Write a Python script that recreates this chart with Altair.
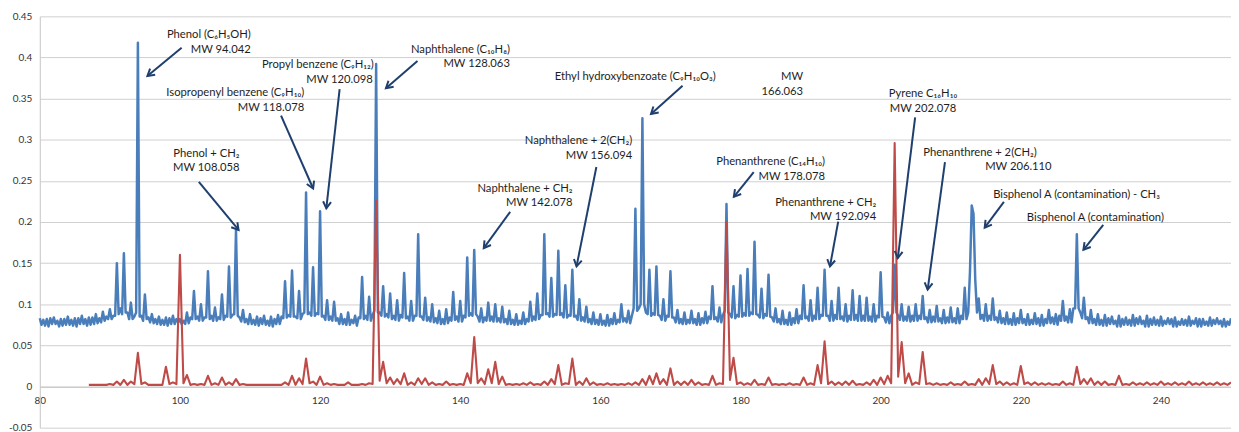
import math
import altair as alt
import pandas as pd

# ---------------- data ----------------
# Blue spectrum: value at every integer m/z from 80 to 250
blue_start = 80
blue_int = [
    0.083, 0.082, 0.084, 0.082, 0.085, 0.083, 0.086, 0.084, 0.088, 0.091,  # 80-89
    0.094, 0.150, 0.162, 0.102, 0.418, 0.112, 0.088, 0.085, 0.084, 0.086,  # 90-99
    0.082, 0.090, 0.116, 0.100, 0.140, 0.096, 0.112, 0.146, 0.190, 0.093,  # 100-109
    0.088, 0.085, 0.086, 0.085, 0.087, 0.128, 0.141, 0.116, 0.236, 0.145,  # 110-119
    0.213, 0.105, 0.103, 0.088, 0.090, 0.086, 0.133, 0.109, 0.392, 0.122,  # 120-129
    0.113, 0.105, 0.138, 0.104, 0.185, 0.108, 0.100, 0.092, 0.094, 0.115,  # 130-139
    0.104, 0.157, 0.166, 0.095, 0.102, 0.100, 0.097, 0.092, 0.088, 0.090,  # 140-149
    0.103, 0.113, 0.185, 0.132, 0.165, 0.123, 0.142, 0.106, 0.097, 0.090,  # 150-159
    0.088, 0.087, 0.089, 0.100, 0.092, 0.216, 0.326, 0.142, 0.146, 0.106,  # 160-169
    0.140, 0.093, 0.090, 0.092, 0.089, 0.091, 0.122, 0.096, 0.222, 0.122,  # 170-179
    0.135, 0.143, 0.176, 0.119, 0.136, 0.095, 0.092, 0.090, 0.094, 0.123,  # 180-189
    0.105, 0.120, 0.142, 0.104, 0.120, 0.100, 0.117, 0.110, 0.108, 0.100,  # 190-199
    0.139, 0.090, 0.148, 0.100, 0.097, 0.100, 0.110, 0.093, 0.098, 0.093,  # 200-209
    0.096, 0.095, 0.120, 0.220, 0.107, 0.100, 0.107, 0.092, 0.090, 0.089,  # 210-219
    0.093, 0.088, 0.089, 0.087, 0.093, 0.088, 0.104, 0.094, 0.185, 0.108,  # 220-229
    0.093, 0.088, 0.087, 0.085, 0.086, 0.084, 0.087, 0.085, 0.086, 0.084,  # 230-239
    0.085, 0.083, 0.084, 0.082, 0.085, 0.083, 0.082, 0.084, 0.083, 0.082,  # 240-249
    0.083,                                                                  # 250
]
# Blue spectrum at m + 0.25 (m = 80 ... 249)
blue_q1 = [
    0.075, 0.073, 0.076, 0.074, 0.075, 0.073, 0.076, 0.075, 0.077, 0.080,
    0.082, 0.088, 0.090, 0.082, 0.085, 0.082, 0.077, 0.075, 0.074, 0.076,
    0.076, 0.077, 0.082, 0.080, 0.082, 0.080, 0.081, 0.084, 0.086, 0.078,
    0.076, 0.074, 0.075, 0.073, 0.076, 0.084, 0.085, 0.082, 0.088, 0.086,
    0.085, 0.081, 0.080, 0.076, 0.075, 0.074, 0.082, 0.080, 0.090, 0.085,
    0.082, 0.080, 0.083, 0.080, 0.085, 0.080, 0.078, 0.076, 0.077, 0.081,
    0.079, 0.086, 0.088, 0.078, 0.080, 0.079, 0.078, 0.076, 0.075, 0.076,
    0.080, 0.082, 0.088, 0.085, 0.087, 0.084, 0.085, 0.080, 0.078, 0.076,
    0.075, 0.074, 0.076, 0.079, 0.077, 0.092, 0.100, 0.086, 0.087, 0.080,
    0.084, 0.077, 0.076, 0.077, 0.075, 0.077, 0.082, 0.078, 0.090, 0.083,
    0.085, 0.086, 0.088, 0.083, 0.085, 0.078, 0.076, 0.075, 0.077, 0.083,
    0.080, 0.082, 0.086, 0.080, 0.082, 0.079, 0.081, 0.080, 0.080, 0.079,
    0.085, 0.077, 0.090, 0.080, 0.079, 0.080, 0.082, 0.078, 0.079, 0.077,
    0.078, 0.077, 0.082, 0.210, 0.082, 0.080, 0.081, 0.077, 0.076, 0.075,
    0.077, 0.075, 0.076, 0.074, 0.077, 0.075, 0.080, 0.078, 0.095, 0.082,
    0.077, 0.075, 0.074, 0.076, 0.073, 0.075, 0.074, 0.076, 0.073, 0.075,
    0.074, 0.076, 0.073, 0.075, 0.074, 0.073, 0.075, 0.074, 0.076, 0.073,
]
# Blue spectrum at m + 0.5 (m = 80 ... 249)
blue_half = [
    0.081, 0.083, 0.080, 0.082, 0.081, 0.083, 0.082, 0.084, 0.083, 0.085,
    0.086, 0.095, 0.090, 0.085, 0.086, 0.084, 0.082, 0.081, 0.083, 0.082,
    0.080, 0.084, 0.085, 0.084, 0.086, 0.084, 0.086, 0.087, 0.084, 0.082,
    0.081, 0.083, 0.080, 0.082, 0.085, 0.087, 0.085, 0.088, 0.090, 0.089,
    0.086, 0.085, 0.083, 0.082, 0.081, 0.084, 0.086, 0.087, 0.090, 0.088,
    0.086, 0.087, 0.085, 0.086, 0.085, 0.084, 0.083, 0.082, 0.084, 0.085,
    0.086, 0.089, 0.085, 0.084, 0.085, 0.083, 0.082, 0.081, 0.080, 0.082,
    0.085, 0.087, 0.089, 0.088, 0.089, 0.087, 0.086, 0.084, 0.082, 0.081,
    0.080, 0.082, 0.081, 0.083, 0.086, 0.095, 0.090, 0.089, 0.086, 0.086,
    0.084, 0.082, 0.081, 0.082, 0.083, 0.085, 0.084, 0.087, 0.088, 0.087,
    0.089, 0.090, 0.087, 0.088, 0.084, 0.082, 0.081, 0.083, 0.086, 0.085,
    0.086, 0.087, 0.086, 0.087, 0.085, 0.086, 0.087, 0.086, 0.085, 0.086,
    0.084, 0.086, 0.086, 0.085, 0.086, 0.086, 0.084, 0.085, 0.083, 0.084,
    0.083, 0.086, 0.090, 0.130, 0.087, 0.086, 0.084, 0.083, 0.082, 0.083,
    0.082, 0.081, 0.083, 0.082, 0.084, 0.086, 0.085, 0.095, 0.090, 0.084,
    0.082, 0.081, 0.083, 0.080, 0.082, 0.081, 0.083, 0.080, 0.082, 0.081,
    0.080, 0.082, 0.079, 0.081, 0.080, 0.082, 0.079, 0.081, 0.080, 0.079,
]
# Blue spectrum at m + 0.75 (m = 80 ... 249)
blue_q3 = [
    0.074, 0.076, 0.073, 0.075, 0.074, 0.076, 0.074, 0.076, 0.078, 0.082,
    0.086, 0.088, 0.082, 0.090, 0.080, 0.078, 0.076, 0.075, 0.076, 0.078,
    0.076, 0.082, 0.080, 0.084, 0.080, 0.082, 0.085, 0.088, 0.079, 0.076,
    0.075, 0.076, 0.074, 0.076, 0.083, 0.085, 0.083, 0.090, 0.086, 0.088,
    0.081, 0.080, 0.076, 0.075, 0.077, 0.083, 0.081, 0.092, 0.086, 0.084,
    0.081, 0.084, 0.080, 0.086, 0.081, 0.079, 0.077, 0.076, 0.080, 0.079,
    0.084, 0.086, 0.079, 0.080, 0.079, 0.078, 0.076, 0.075, 0.076, 0.079,
    0.081, 0.087, 0.085, 0.087, 0.084, 0.086, 0.081, 0.079, 0.076, 0.075,
    0.074, 0.076, 0.078, 0.078, 0.095, 0.100, 0.088, 0.087, 0.081, 0.085,
    0.078, 0.076, 0.077, 0.075, 0.077, 0.082, 0.079, 0.092, 0.084, 0.085,
    0.086, 0.088, 0.084, 0.086, 0.079, 0.076, 0.075, 0.077, 0.082, 0.080,
    0.082, 0.086, 0.080, 0.082, 0.080, 0.081, 0.080, 0.080, 0.079, 0.084,
    0.078, 0.090, 0.081, 0.080, 0.080, 0.082, 0.078, 0.079, 0.077, 0.078,
    0.077, 0.082, 0.140, 0.090, 0.080, 0.081, 0.078, 0.076, 0.075, 0.077,
    0.075, 0.076, 0.074, 0.077, 0.076, 0.080, 0.078, 0.095, 0.083, 0.077,
    0.075, 0.074, 0.076, 0.073, 0.075, 0.074, 0.076, 0.073, 0.075, 0.074,
    0.076, 0.073, 0.075, 0.074, 0.076, 0.073, 0.074, 0.076, 0.073, 0.075,
]

# Red spectrum: value at every integer m/z from 87 to 250
red_start = 87
red_int = [
    0.002, 0.002, 0.002, 0.003, 0.006, 0.008, 0.006, 0.041, 0.005, 0.002,  # 87-96
    0.002, 0.024, 0.005, 0.160, 0.014, 0.003, 0.003, 0.013, 0.004, 0.011,  # 97-106
    0.005, 0.009, 0.003, 0.002, 0.002, 0.002, 0.002, 0.002, 0.005, 0.013,  # 107-116
    0.010, 0.034, 0.006, 0.012, 0.004, 0.003, 0.002, 0.005, 0.002, 0.003,  # 117-126
    0.004, 0.226, 0.030, 0.011, 0.009, 0.016, 0.005, 0.010, 0.010, 0.005,  # 127-136
    0.003, 0.006, 0.003, 0.003, 0.016, 0.060, 0.010, 0.021, 0.030, 0.012,  # 137-146
    0.003, 0.003, 0.004, 0.005, 0.003, 0.006, 0.009, 0.026, 0.004, 0.034,  # 147-156
    0.006, 0.010, 0.005, 0.003, 0.004, 0.003, 0.003, 0.004, 0.005, 0.009,  # 157-166
    0.013, 0.016, 0.009, 0.022, 0.006, 0.006, 0.008, 0.005, 0.003, 0.013,  # 167-176
    0.004, 0.200, 0.035, 0.005, 0.004, 0.008, 0.003, 0.011, 0.003, 0.003,  # 177-186
    0.004, 0.003, 0.011, 0.004, 0.026, 0.055, 0.006, 0.005, 0.006, 0.007,  # 187-196
    0.003, 0.005, 0.008, 0.011, 0.013, 0.296, 0.054, 0.016, 0.005, 0.042,  # 197-206
    0.004, 0.004, 0.003, 0.005, 0.003, 0.006, 0.003, 0.009, 0.010, 0.026,  # 207-216
    0.006, 0.005, 0.004, 0.025, 0.005, 0.005, 0.004, 0.004, 0.003, 0.006,  # 217-226
    0.004, 0.024, 0.009, 0.010, 0.006, 0.006, 0.003, 0.013, 0.003, 0.005,  # 227-236
    0.004, 0.005, 0.004, 0.006, 0.004, 0.005, 0.004, 0.006, 0.004, 0.005,  # 237-246
    0.004, 0.005, 0.004, 0.005,                                            # 247-250
]
# Red spectrum: half-way values (87.5 ... 249.5)
red_half = [
    0.002, 0.002, 0.002, 0.002, 0.002, 0.002, 0.003, 0.003, 0.002, 0.002,
    0.002, 0.003, 0.003, 0.004, 0.002, 0.002, 0.002, 0.002, 0.002, 0.002,
    0.002, 0.002, 0.002, 0.002, 0.002, 0.002, 0.002, 0.002, 0.002, 0.002,
    0.003, 0.004, 0.002, 0.002, 0.002, 0.002, 0.002, 0.002, 0.002, 0.002,
    0.003, 0.007, 0.004, 0.003, 0.003, 0.002, 0.002, 0.003, 0.002, 0.002,
    0.002, 0.002, 0.002, 0.002, 0.004, 0.004, 0.003, 0.004, 0.003, 0.002,
    0.002, 0.002, 0.002, 0.002, 0.002, 0.002, 0.003, 0.002, 0.003, 0.002,
    0.002, 0.002, 0.002, 0.002, 0.002, 0.002, 0.002, 0.002, 0.002, 0.002,
    0.003, 0.003, 0.002, 0.002, 0.002, 0.002, 0.002, 0.002, 0.002, 0.002,
    0.003, 0.008, 0.003, 0.002, 0.002, 0.002, 0.002, 0.002, 0.002, 0.002,
    0.002, 0.002, 0.002, 0.002, 0.004, 0.003, 0.002, 0.002, 0.002, 0.002,
    0.002, 0.002, 0.002, 0.003, 0.004, 0.012, 0.004, 0.002, 0.003, 0.003,
    0.002, 0.002, 0.002, 0.002, 0.002, 0.002, 0.002, 0.002, 0.003, 0.003,
    0.002, 0.002, 0.002, 0.003, 0.002, 0.002, 0.002, 0.002, 0.002, 0.002,
    0.002, 0.003, 0.003, 0.002, 0.002, 0.002, 0.002, 0.002, 0.002, 0.002,
    0.002, 0.002, 0.002, 0.002, 0.002, 0.002, 0.002, 0.002, 0.002, 0.002,
    0.002, 0.002, 0.002,
]

# Annotation text lines: right edge x (m/z), centre y (intensity)
label_text = [
    "Phenol (C₆H₅OH)", "MW 94.042",
    "Propyl benzene (C₉H₁₂)", "MW 120.098",
    "Isopropenyl benzene (C₉H₁₀)", "MW 118.078",
    "Phenol + CH₂", "MW 108.058",
    "Naphthalene (C₁₀H₈)", "MW 128.063",
    "Ethyl hydroxybenzoate (C₉H₁₀O₃)", "MW", "166.063",
    "Naphthalene + 2(CH₂)", "MW 156.094",
    "Naphthalene + CH₂", "MW 142.078",
    "Phenanthrene (C₁₄H₁₀)", "MW 178.078",
    "Phenanthrene + CH₂", "MW 192.094",
    "Pyrene C₁₆H₁₀", "MW 202.078",
    "Phenanthrene + 2(CH₂)", "MW 206.110",
    "Bisphenol A (contamination) - CH₃",
    "Bisphenol A (contamination)",
]
label_x = [
    110.11, 110.11,
    127.66, 127.52,
    117.73, 117.73,
    108.51, 108.51,
    147.09, 147.09,
    176.45, 188.94, 188.94,
    164.54, 164.54,
    156.03, 156.03,
    192.06, 192.06,
    199.39, 199.39,
    210.92, 210.78,
    222.27, 224.40,
    239.86,
    240.43,
]
label_y = [
    0.4279, 0.4086,
    0.3908, 0.3723,
    0.3562, 0.3385,
    0.2830, 0.2656,
    0.4086, 0.3917,
    0.3763, 0.3763, 0.3586,
    0.2982, 0.2806,
    0.2399, 0.2226,
    0.2728, 0.2547,
    0.2226, 0.2064,
    0.3554, 0.3373,
    0.2842, 0.2668,
    0.2326,
    0.2045,
]

# Arrows: tail (x, y) -> head (x, y)
arrow_tail_x = [100.24, 122.79, 114.43, 102.70, 133.90, 171.73, 159.43, 147.13,
                181.89, 193.94, 204.92, 209.18, 217.59, 231.77]
arrow_tail_y = [0.4117, 0.3615, 0.3292, 0.2487, 0.3957, 0.3655, 0.2668, 0.2124,
                0.2607, 0.2004, 0.3272, 0.2728, 0.2245, 0.1964]
arrow_head_x = [95.36, 120.89, 119.01, 108.37, 129.40, 167.23, 156.60, 143.36,
                179.05, 192.77, 202.45, 206.71, 214.85, 228.94]
arrow_head_y = [0.3775, 0.2165, 0.2407, 0.1903, 0.3627, 0.3313, 0.1460, 0.1682,
                0.2306, 0.1460, 0.1562, 0.1179, 0.1931, 0.1662]

x_ticks = [80, 100, 120, 140, 160, 180, 200, 220, 240]
y_ticks = [-0.05, 0, 0.05, 0.1, 0.15, 0.2, 0.25, 0.3, 0.35, 0.4, 0.45]

# ---------------- build tables ----------------
assert len(blue_int) == 171
assert len(blue_q1) == len(blue_half) == len(blue_q3) == 170
assert len(red_int) == 164 and len(red_half) == 163

blue_rows = []
for i, v in enumerate(blue_int):
    blue_rows.append({"mz": blue_start + i, "v": v})
    if i < len(blue_half):
        blue_rows.append({"mz": blue_start + i + 0.25, "v": blue_q1[i]})
        blue_rows.append({"mz": blue_start + i + 0.5, "v": blue_half[i]})
        blue_rows.append({"mz": blue_start + i + 0.75, "v": blue_q3[i]})
red_rows = []
for i, v in enumerate(red_int):
    red_rows.append({"mz": red_start + i, "v": v})
    if i < len(red_half):
        red_rows.append({"mz": red_start + i + 0.5, "v": red_half[i]})
blue_df = pd.DataFrame(blue_rows)
red_df = pd.DataFrame(red_rows)

W, H = 1199, 414
XMIN, XMAX = 80, 250
YMIN, YMAX = -0.05, 0.45
PX_X = W / (XMAX - XMIN)
PX_Y = H / (YMAX - YMIN)

arrow_df = pd.DataFrame({
    "x": arrow_tail_x, "y": arrow_tail_y,
    "x2": arrow_head_x, "y2": arrow_head_y,
})
arrow_df["angle"] = [
    math.degrees(math.atan2(-(hy - ty) * PX_Y, (hx - tx) * PX_X)) % 360
    for tx, ty, hx, hy in zip(arrow_tail_x, arrow_tail_y, arrow_head_x, arrow_head_y)
]
label_df = pd.DataFrame({"t": label_text, "x": label_x, "y": label_y})

FONT = "Lato"
xs = alt.Scale(domain=[XMIN, XMAX], nice=False, zero=False)
ys = alt.Scale(domain=[YMIN, YMAX], nice=False, zero=False)

x_axis = alt.Axis(values=x_ticks, offset=-(0.05 * PX_Y), grid=False, ticks=False,
                  tickSize=0, labelPadding=9, domain=True, domainColor="#c6c6c6",
                  labelFont=FONT, labelFontSize=10, labelColor="#333333", title=None,
                  labelFlush=False)
y_axis = alt.Axis(values=y_ticks, grid=True, gridColor="#d0d0d0", gridWidth=1,
                  ticks=False, tickSize=0, labelPadding=8, domain=True,
                  domainColor="#c6c6c6", labelFont=FONT, labelFontSize=10,
                  labelColor="#333333", title=None,
                  labelExpr="toString(round(datum.value*100)/100)")

blue = alt.Chart(blue_df).mark_line(color="#4a7ebb", strokeWidth=2.5, strokeJoin="round").encode(
    x=alt.X("mz:Q", scale=xs, axis=x_axis),
    y=alt.Y("v:Q", scale=ys, axis=y_axis),
)
red = alt.Chart(red_df).mark_line(color="#be4b48", strokeWidth=2.1, strokeJoin="round").encode(
    x=alt.X("mz:Q", scale=xs),
    y=alt.Y("v:Q", scale=ys),
)
shafts = alt.Chart(arrow_df).mark_rule(color="#1f3f6e", strokeWidth=2).encode(
    x=alt.X("x:Q", scale=xs), y=alt.Y("y:Q", scale=ys),
    x2="x2:Q", y2="y2:Q",
)
heads = alt.Chart(arrow_df).mark_point(
    shape="M-1.7,-1L0,0L-1.7,1", filled=False, size=64, strokeWidth=2,
    color="#1f3f6e", opacity=1,
).encode(
    x=alt.X("x2:Q", scale=xs), y=alt.Y("y2:Q", scale=ys),
    angle=alt.Angle("angle:Q", scale=None),
)
labels = alt.Chart(label_df).mark_text(
    align="right", baseline="middle", font=FONT, fontSize=11.3, color="#1e1e1e",
).encode(
    x=alt.X("x:Q", scale=xs), y=alt.Y("y:Q", scale=ys), text="t:N",
)

chart = alt.layer(blue, red, shafts, heads, labels).properties(
    width=W, height=H,
    padding={"left": 32, "top": 7, "right": 0, "bottom": 6},
    autosize=alt.AutoSizeParams(type="none"),
    background="white",
).configure_view(strokeWidth=0)

chart.save("out.html", embed_options={"renderer": "svg", "actions": False})
